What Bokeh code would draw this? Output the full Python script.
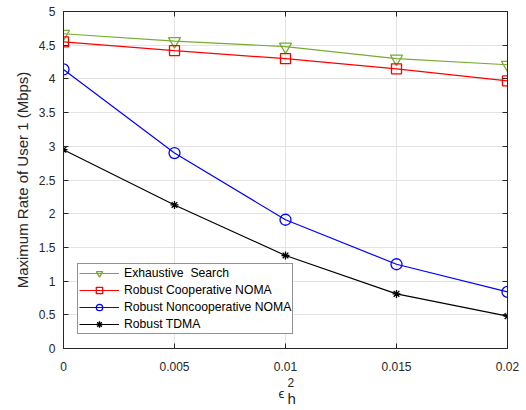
from bokeh.plotting import figure
from bokeh.models import LinearAxis, FixedTicker, Legend, LegendItem, Title, Range1d
from bokeh.embed import file_html
from bokeh.resources import INLINE

x_vals = [0, 0.005, 0.01, 0.015, 0.02]
exhaustive = [4.67, 4.56, 4.48, 4.30, 4.21]
coop_noma = [4.55, 4.42, 4.30, 4.15, 3.97]
noncoop_noma = [4.14, 2.90, 1.91, 1.25, 0.84]
tdma = [2.95, 2.13, 1.38, 0.81, 0.48]

x_ticks = [0, 0.005, 0.01, 0.015, 0.02]
x_tick_labels = ["0", "0.005", "0.01", "0.015", "0.02"]
y_ticks = [0, 0.5, 1, 1.5, 2, 2.5, 3, 3.5, 4, 4.5, 5]
y_tick_labels = ["0", "0.5", "1", "1.5", "2", "2.5", "3", "3.5", "4", "4.5", "5"]

FONT = "Liberation Sans"
AX = "#262626"

p = figure(width=526, height=410, output_backend="svg", toolbar_location=None,
           x_range=Range1d(0, 0.02), y_range=Range1d(0, 5),
           min_border_left=63, min_border_right=19, min_border_top=11, min_border_bottom=62)
p.outline_line_color = AX
p.outline_line_width = 1

def style_axis(ax, show_labels=True):
    ax.axis_line_color = AX
    ax.major_tick_line_color = AX
    ax.minor_tick_line_color = None
    ax.major_tick_in = 5
    ax.major_tick_out = 0
    ax.major_label_text_font = FONT
    ax.major_label_text_font_size = "12px"
    ax.major_label_text_color = AX
    ax.major_label_standoff = 6
    if not show_labels:
        ax.major_label_text_alpha = 0
        ax.major_label_text_font_size = "1px"
        ax.major_label_standoff = 0

p.xaxis.ticker = FixedTicker(ticks=x_ticks)
p.yaxis.ticker = FixedTicker(ticks=y_ticks)
p.xaxis.major_label_overrides = {t: l for t, l in zip(x_ticks, x_tick_labels)}
p.yaxis.major_label_overrides = {t: l for t, l in zip(y_ticks, y_tick_labels)}
style_axis(p.xaxis[0])
style_axis(p.yaxis[0])
p.xaxis.major_label_standoff = 13
p.yaxis.major_label_standoff = 8
p.yaxis.axis_label = "Maximum Rate of User 1 (Mbps)"
p.yaxis.axis_label_text_font = FONT
p.yaxis.axis_label_text_font_size = "15px"
p.yaxis.axis_label_text_font_style = "normal"
p.yaxis.axis_label_text_color = AX
p.yaxis.axis_label_standoff = 5

top = LinearAxis(ticker=FixedTicker(ticks=x_ticks))
style_axis(top, False)
p.add_layout(top, "above")
right = LinearAxis(ticker=FixedTicker(ticks=y_ticks))
style_axis(right, False)
p.add_layout(right, "right")

p.xgrid.ticker = FixedTicker(ticks=x_ticks)
p.ygrid.ticker = FixedTicker(ticks=y_ticks)
p.grid.grid_line_color = "#e3e3e3"
p.grid.grid_line_width = 1

series = [
    ("Exhaustive  Search", exhaustive, "#77AC30", "inverted_triangle", 12),
    ("Robust Cooperative NOMA", coop_noma, "#FF0000", "square", 10),
    ("Robust Noncooperative NOMA", noncoop_noma, "#0000FF", "circle", 11),
    ("Robust TDMA", tdma, "#000000", "asterisk", 8),
]
items = []
for name, ys, color, marker, size in series:
    r1 = p.line(x_vals, ys, line_color=color, line_width=1.2)
    r2 = p.scatter(x_vals, ys, marker=marker, size=size, line_color=color,
                   fill_color=None, line_width=1.3)
    items.append(LegendItem(label=name, renderers=[r1, r2]))

legend = Legend(items=items)
legend.label_text_font = FONT
legend.label_text_font_size = "12.2px"
legend.label_text_color = "#000000"
legend.border_line_color = AX
legend.border_line_width = 1
legend.background_fill_color = "white"
legend.background_fill_alpha = 1
legend.glyph_width = 40
legend.glyph_height = 16
legend.label_height = 16
legend.spacing = 1
legend.margin = 0
legend.label_standoff = 5
legend.padding = 1
legend.location = (14, 14)
p.add_layout(legend, "center")

for txt, size, off, stand in [("2", "12px", 224, 5), ("\u03f5", "13px", 215, -11), ("h", "15px", 224, -16)]:
    t = Title(text=txt, align="left", offset=off, standoff=stand, text_font=FONT,
              text_font_size=size, text_font_style="normal", text_color=AX)
    p.add_layout(t, "below")

open("out.html", "w").write(file_html(p, INLINE))
